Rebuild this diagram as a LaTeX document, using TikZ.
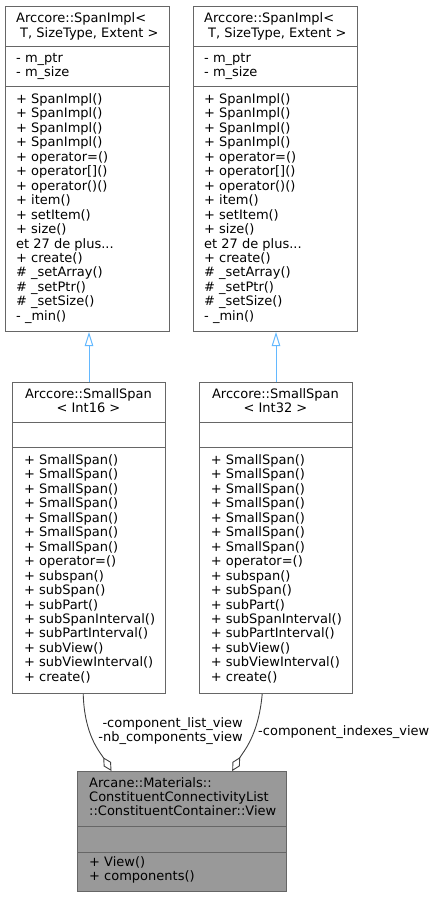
\documentclass[tikz,border=0pt]{standalone}
\usepackage{fontspec}
\setmainfont{DejaVu Sans}
\usetikzlibrary{arrows.meta}
\definecolor{bordergray}{HTML}{666666}
\definecolor{inhblue}{HTML}{63B8FF}
\definecolor{compgray}{HTML}{404040}
\definecolor{hlgray}{HTML}{999999}
\tikzset{
  umlbox/.style={draw=bordergray, line width=1pt, fill=white, inner sep=0pt, anchor=north west},
  hlbox/.style={umlbox, fill=hlgray},
  sepline/.style={draw=bordergray, line width=1pt},
  txt/.style={anchor=base west, inner sep=0pt, align=left},
  ctxt/.style={anchor=base, inner sep=0pt, align=center},
  inherit/.style={draw=inhblue, line width=1pt, -{Triangle[open, length=14pt, width=8.5pt]}},
  compose/.style={draw=compgray, line width=0.9pt, -{Diamond[open, length=16pt, width=8.5pt]}},
  lbl/.style={inner sep=0pt}
}
\begin{document}
\begin{tikzpicture}[x=1pt, y=-1pt, font=\fontsize{13}{14.45}\selectfont]
\useasboundingbox (0,0) rectangle (437,897);
% (text nodes are placed by the baseline of their LAST line)

% Box A
\node[umlbox, minimum width=164pt, minimum height=325pt] (A) at (5,6) {};
\draw[sepline] (5,46) -- (169,46);
\draw[sepline] (5,86) -- (169,86);
\node[txt] (Atitle) at (16,37.15) {Arccore::SpanImpl<\\\hspace*{4pt}T, SizeType, Extent >};
\node[txt] (Aattr) at (16,76.95) {- m\_ptr\\- m\_size};
\node[txt] (Ameth) at (16,320.25) {+ SpanImpl()\\+ SpanImpl()\\+ SpanImpl()\\+ SpanImpl()\\+ operator=()\\+ operator[]()\\+ operator()()\\+ item()\\+ setItem()\\+ size()\\et 27 de plus...\\+ create()\\\# \_setArray()\\\# \_setPtr()\\\# \_setSize()\\- \_min()};

% Box B
\node[umlbox, minimum width=164pt, minimum height=325pt] (B) at (193,6) {};
\draw[sepline] (193,46) -- (357,46);
\draw[sepline] (193,86) -- (357,86);
\node[txt] (Btitle) at (204,37.15) {Arccore::SpanImpl<\\\hspace*{4pt}T, SizeType, Extent >};
\node[txt] (Battr) at (204,76.95) {- m\_ptr\\- m\_size};
\node[txt] (Bmeth) at (204,320.25) {+ SpanImpl()\\+ SpanImpl()\\+ SpanImpl()\\+ SpanImpl()\\+ operator=()\\+ operator[]()\\+ operator()()\\+ item()\\+ setItem()\\+ size()\\et 27 de plus...\\+ create()\\\# \_setArray()\\\# \_setPtr()\\\# \_setSize()\\- \_min()};

% Box C
\node[umlbox, minimum width=153pt, minimum height=311pt] (C) at (12,382) {};
\draw[sepline] (12,422) -- (165,422);
\draw[sepline] (12,447) -- (165,447);
\node[ctxt] (Ctitle) at (88.5,412.95) {Arccore::SmallSpan\\< Int16 >};
\node[txt] (Cmeth) at (24,681.25) {+ SmallSpan()\\+ SmallSpan()\\+ SmallSpan()\\+ SmallSpan()\\+ SmallSpan()\\+ SmallSpan()\\+ SmallSpan()\\+ operator=()\\+ subspan()\\+ subSpan()\\+ subPart()\\+ subSpanInterval()\\+ subPartInterval()\\+ subView()\\+ subViewInterval()\\+ create()};

% Box D
\node[umlbox, minimum width=153pt, minimum height=311pt] (D) at (199,382) {};
\draw[sepline] (199,422) -- (352,422);
\draw[sepline] (199,447) -- (352,447);
\node[ctxt] (Dtitle) at (275.5,412.95) {Arccore::SmallSpan\\< Int32 >};
\node[txt] (Dmeth) at (210.7,681.25) {+ SmallSpan()\\+ SmallSpan()\\+ SmallSpan()\\+ SmallSpan()\\+ SmallSpan()\\+ SmallSpan()\\+ SmallSpan()\\+ operator=()\\+ subspan()\\+ subSpan()\\+ subPart()\\+ subSpanInterval()\\+ subPartInterval()\\+ subView()\\+ subViewInterval()\\+ create()};

% Box E
\node[hlbox, minimum width=209pt, minimum height=120pt] (E) at (77,771) {};
\draw[sepline] (77,826) -- (286,826);
\draw[sepline] (77,852) -- (286,852);
\node[txt] (Etitle) at (89,815.9) {Arcane::Materials::\\ConstituentConnectivityList\\::ConstituentContainer::View};
\node[txt] (Emeth) at (89,880.95) {+ View()\\+ components()};

% Inheritance
\draw[inherit] (C.north) -- (C.north |- A.south);
\draw[inherit] (D.north) -- (D.north |- B.south);

% Composition
\draw[compose] ([xshift=-5.8pt]C.south) .. controls ([xshift=-4.5pt, yshift=-42pt]C.south) and ([xshift=-82pt, yshift=19pt]E.north) .. ([xshift=-70.5pt]E.north);
\draw[compose] ([xshift=-13.8pt]D.south) .. controls ([xshift=-17.5pt, yshift=-42pt]D.south) and ([xshift=61pt, yshift=19pt]E.north) .. ([xshift=50.2pt]E.north);

\node[lbl, anchor=base east, align=right] (L1) at (243,741.95) {-component\_list\_view\\-nb\_components\_view};
\node[lbl, anchor=base west] (L2) at (258,735) {-component\_indexes\_view};
\end{tikzpicture}
\end{document}
